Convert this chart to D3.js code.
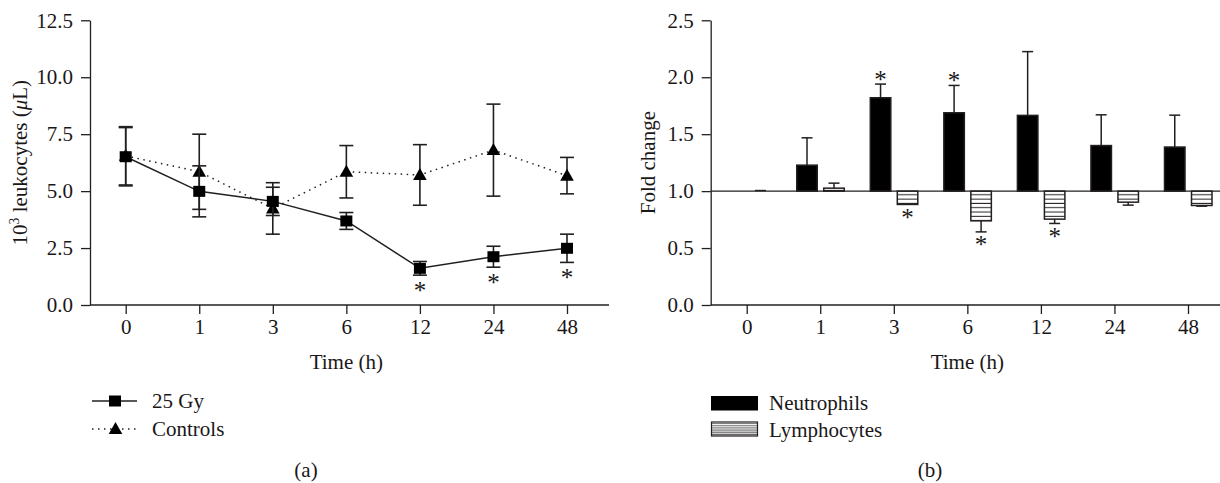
<!DOCTYPE html>
<html>
<head>
<meta charset="utf-8">
<script src="https://cdn.jsdelivr.net/npm/d3@7"></script>
<style>
  html, body { margin: 0; padding: 0; background: #fff; }
  svg text { font-family: "Liberation Serif", "DejaVu Serif", serif; fill: #1a1718; }
</style>
</head>
<body>
<svg id="chart" width="1220" height="483"></svg>
<script>
// data
const times = ['0', '1', '3', '6', '12', '24', '48'];

// (a) leukocytes, 10^3 / uL
const gyMean = [6.51, 4.99, 4.55, 3.69, 1.61, 2.12, 2.49];
const gyErr = [1.28, 1.12, 0.62, 0.37, 0.30, 0.46, 0.62];
const gySig = [false, false, false, false, true, true, true];
const ctrlMean = [6.55, 5.85, 4.24, 5.85, 5.71, 6.80, 5.68];
const ctrlErr = [1.28, 1.65, 1.13, 1.15, 1.33, 2.02, 0.80];
const leukTicks = [0, 2.5, 5, 7.5, 10, 12.5];

// (b) fold change
const neutMean = [1.0, 1.228, 1.82, 1.688, 1.665, 1.40, 1.387];
const neutErr = [0, 0.24, 0.12, 0.24, 0.56, 0.27, 0.28];
const neutSig = [false, false, true, true, false, false, false];
const lymMean = [1.0, 1.026, 0.883, 0.739, 0.754, 0.903, 0.874];
const lymErr = [0.005, 0.044, 0, 0.097, 0.038, 0.026, 0.006];
const lymSig = [false, false, true, true, true, false, false];
const foldTicks = [0, 0.5, 1.0, 1.5, 2.0, 2.5];

const ink = '#231f20';
const fs = 21;
const starSize = 25;

const svg = d3.select('#chart');

// stripe patterns for lymphocytes
const defs = svg.append('defs');
const stripes = defs.append('pattern')
    .attr('id', 'stripes')
    .attr('patternUnits', 'userSpaceOnUse')
    .attr('x', 0).attr('y', 191)
    .attr('width', 8).attr('height', 4.3);
stripes.append('rect').attr('width', 8).attr('height', 4.3).attr('fill', '#fff');
stripes.append('rect').attr('y', 3.3).attr('width', 8).attr('height', 1).attr('fill', ink);

const stripesFine = defs.append('pattern')
    .attr('id', 'stripesFine')
    .attr('patternUnits', 'userSpaceOnUse')
    .attr('x', 0).attr('y', 0)
    .attr('width', 8).attr('height', 2.1);
stripesFine.append('rect').attr('width', 8).attr('height', 2.1).attr('fill', '#fff');
stripesFine.append('rect').attr('y', 1.2).attr('width', 8).attr('height', 0.8).attr('fill', ink);

function styleAxis(g) {
    g.selectAll('path, line').attr('stroke', ink).attr('stroke-width', 1.3);
    g.selectAll('text')
        .attr('font-size', fs)
        .attr('font-family', '"Liberation Serif", serif')
        .attr('fill', '#1a1718');
}

function star(g, x, cy) {
    g.append('text')
        .attr('x', x)
        .attr('y', cy + starSize * 0.52)
        .attr('text-anchor', 'middle')
        .attr('font-size', starSize)
        .text('*');
}

// ---------------- panel (a) ----------------
{
    const g = svg.append('g');
    const x = d3.scalePoint().domain(times).range([125.7, 567]);
    const y = d3.scaleLinear().domain([0, 12.5]).range([305, 20.3]);
    const x0 = 90, x1 = 609;

    const ya = g.append('g')
        .attr('transform', `translate(${x0},0)`)
        .call(d3.axisLeft(y).tickValues(leukTicks).tickFormat(d3.format('.1f'))
            .tickSize(9).tickSizeOuter(0).tickPadding(8));
    styleAxis(ya);

    const xa = g.append('g')
        .attr('transform', `translate(0,${y(0)})`)
        .call(d3.axisBottom(x).tickSize(9).tickSizeOuter(0).tickPadding(5));
    xa.select('.domain').remove();
    xa.append('line').attr('x1', x0).attr('x2', x1);
    styleAxis(xa);

    g.append('text')
        .attr('x', (x(times[0]) + x(times[times.length - 1])) / 2)
        .attr('y', 362)
        .attr('dy', '0.35em')
        .attr('text-anchor', 'middle')
        .attr('font-size', fs)
        .text('Time (h)');

    const yl = g.append('text')
        .attr('transform', `translate(27,${(y(0) + y(12.5)) / 2}) rotate(-90)`)
        .attr('text-anchor', 'middle')
        .attr('font-size', fs);
    yl.append('tspan').text('10');
    yl.append('tspan').attr('font-size', fs * 0.65).attr('dy', -8).text('3');
    yl.append('tspan').attr('dy', 8).text(' leukocytes (');
    yl.append('tspan').attr('font-style', 'italic').text('μ');
    yl.append('tspan').text('L)');

    const series = [
        { mean: ctrlMean, err: ctrlErr, dash: '1.5,4.5', shape: 'tri' },
        { mean: gyMean, err: gyErr, dash: null, shape: 'sq' }
    ];

    series.forEach(s => {
        const pts = times.map((t, i) => ({ t, v: s.mean[i], e: s.err[i] }));
        const line = d3.line().x(d => x(d.t)).y(d => y(d.v));
        g.append('path')
            .datum(pts)
            .attr('fill', 'none')
            .attr('stroke', ink)
            .attr('stroke-width', 1.5)
            .attr('stroke-dasharray', s.dash)
            .attr('d', line);

        const eb = g.append('g').attr('stroke', ink).attr('stroke-width', 1.6);
        pts.forEach(d => {
            const cx = x(d.t);
            eb.append('line').attr('x1', cx).attr('x2', cx).attr('y1', y(d.v + d.e)).attr('y2', y(d.v - d.e));
            eb.append('line').attr('x1', cx - 7).attr('x2', cx + 7).attr('y1', y(d.v + d.e)).attr('y2', y(d.v + d.e));
            eb.append('line').attr('x1', cx - 7).attr('x2', cx + 7).attr('y1', y(d.v - d.e)).attr('y2', y(d.v - d.e));
        });

        pts.forEach(d => {
            const cx = x(d.t), cy = y(d.v);
            if (s.shape === 'sq') {
                g.append('rect').attr('x', cx - 6).attr('y', cy - 5.5)
                    .attr('width', 12).attr('height', 11).attr('fill', '#000');
            } else {
                g.append('path')
                    .attr('d', `M${cx},${cy - 7}L${cx + 6.8},${cy + 5}L${cx - 6.8},${cy + 5}Z`)
                    .attr('fill', '#000');
            }
        });
    });

    gySig.forEach((s, i) => {
        if (s) star(g, x(times[i]), y(gyMean[i] - gyErr[i]) + 11);
    });

    // legend
    const lg = g.append('g');
    lg.append('line').attr('x1', 92).attr('x2', 137).attr('y1', 401).attr('y2', 401)
        .attr('stroke', ink).attr('stroke-width', 1.5);
    lg.append('rect').attr('x', 109).attr('y', 395.5).attr('width', 12).attr('height', 11).attr('fill', '#000');
    lg.append('text').attr('x', 152).attr('y', 401).attr('dy', '0.35em').attr('font-size', fs).text('25 Gy');
    lg.append('line').attr('x1', 92).attr('x2', 137).attr('y1', 429).attr('y2', 429)
        .attr('stroke', ink).attr('stroke-width', 1.5).attr('stroke-dasharray', '1.5,4.5');
    lg.append('path').attr('d', 'M115.5,422L122.3,434L108.7,434Z').attr('fill', '#000');
    lg.append('text').attr('x', 152).attr('y', 429).attr('dy', '0.35em').attr('font-size', fs).text('Controls');

    g.append('text').attr('x', 306).attr('y', 470).attr('dy', '0.35em')
        .attr('text-anchor', 'middle').attr('font-size', fs).text('(a)');
}

// ---------------- panel (b) ----------------
{
    const g = svg.append('g');
    const x = d3.scalePoint().domain(times).range([746.7, 1188]);
    const y = d3.scaleLinear().domain([0, 2.5]).range([305, 20.3]);
    const x0 = 710.7, x1 = 1220;

    const ya = g.append('g')
        .attr('transform', `translate(${x0},0)`)
        .call(d3.axisLeft(y).tickValues(foldTicks).tickFormat(d3.format('.1f'))
            .tickSize(9).tickSizeOuter(0).tickPadding(8));
    styleAxis(ya);

    const xa = g.append('g')
        .attr('transform', `translate(0,${y(0)})`)
        .call(d3.axisBottom(x).tickSize(9).tickSizeOuter(0).tickPadding(5));
    xa.select('.domain').remove();
    xa.append('line').attr('x1', x0).attr('x2', x1);
    styleAxis(xa);

    g.append('text')
        .attr('x', (x(times[0]) + x(times[times.length - 1])) / 2)
        .attr('y', 362)
        .attr('dy', '0.35em')
        .attr('text-anchor', 'middle')
        .attr('font-size', fs)
        .text('Time (h)');

    g.append('text')
        .attr('transform', `translate(655,${(y(0) + y(2.5)) / 2}) rotate(-90)`)
        .attr('text-anchor', 'middle')
        .attr('font-size', fs)
        .text('Fold change');

    const bw = 20.5;
    const groups = [
        { mean: neutMean, err: neutErr, sig: neutSig, off: -3 - bw, fill: '#000' },
        { mean: lymMean, err: lymErr, sig: lymSig, off: 3.5, fill: 'url(#stripes)' }
    ];

    groups.forEach(s => {
        times.forEach((t, i) => {
            const v = s.mean[i], e = s.err[i];
            const bx = x(t) + s.off, cx = bx + bw / 2;
            const up = v >= 1;
            if (Math.abs(v - 1) > 0.002) {
                g.append('rect')
                    .attr('x', bx).attr('width', bw)
                    .attr('y', y(Math.max(v, 1))).attr('height', Math.abs(y(v) - y(1)))
                    .attr('fill', s.fill)
                    .attr('stroke', ink).attr('stroke-width', 1.5);
            }
            let tip = y(v);
            if (e > 0) {
                const ev = up ? v + e : v - e;
                tip = y(ev);
                g.append('line').attr('x1', cx).attr('x2', cx).attr('y1', y(v)).attr('y2', tip)
                    .attr('stroke', ink).attr('stroke-width', 1.5);
                g.append('line').attr('x1', cx - 5.5).attr('x2', cx + 5.5).attr('y1', tip).attr('y2', tip)
                    .attr('stroke', ink).attr('stroke-width', 1.5);
            }
            if (s.sig[i]) star(g, cx, up ? tip - 9 : tip + 8.5);
        });
    });

    // reference line at 1.0
    g.append('line').attr('x1', x0).attr('x2', x1).attr('y1', y(1)).attr('y2', y(1))
        .attr('stroke', ink).attr('stroke-width', 1.3);

    // legend
    const lg = g.append('g');
    lg.append('rect').attr('x', 711).attr('y', 396).attr('width', 47).attr('height', 14.5).attr('fill', '#000');
    lg.append('text').attr('x', 769).attr('y', 403).attr('dy', '0.35em').attr('font-size', fs).text('Neutrophils');
    lg.append('rect').attr('x', 711.5).attr('y', 422).attr('width', 46).attr('height', 14)
        .attr('fill', 'url(#stripesFine)').attr('stroke', ink).attr('stroke-width', 1.2);
    lg.append('text').attr('x', 769).attr('y', 429.5).attr('dy', '0.35em').attr('font-size', fs).text('Lymphocytes');

    g.append('text').attr('x', 930).attr('y', 470).attr('dy', '0.35em')
        .attr('text-anchor', 'middle').attr('font-size', fs).text('(b)');
}
</script>
</body>
</html>
